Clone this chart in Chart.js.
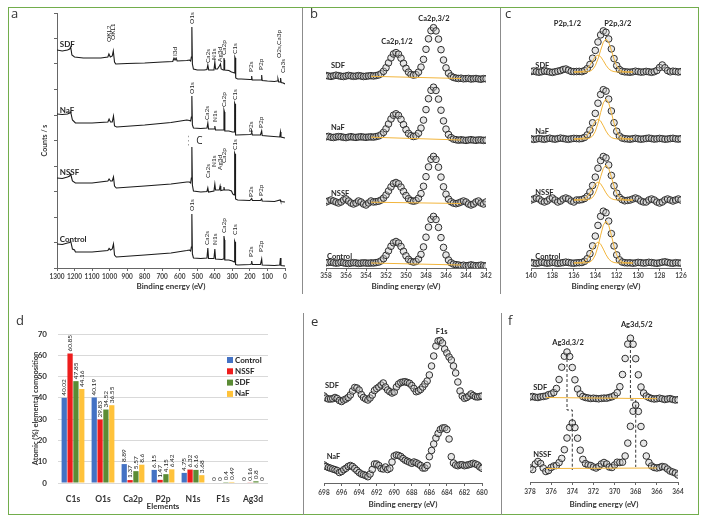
<!DOCTYPE html>
<html>
<head>
<meta charset="utf-8">
<script src="https://cdn.jsdelivr.net/npm/chart.js@4.4.1/dist/chart.umd.min.js"></script>
<style>
  html, body { margin:0; padding:0; background:#fff; }
  #fig { position:relative; width:705px; height:524px; overflow:hidden; }
  #fig canvas { position:absolute; }
  .frame { position:absolute; left:8px; top:7px; width:689px; height:506px; border:1.5px solid #72ad4c; }
  .vl { position:absolute; width:1px; background:#8c8c8c; }
  .tag { position:absolute; font:13px 'Open Sans', sans-serif; color:#333; line-height:13px; }
</style>
</head>
<body>
<div id="fig">
  <div class="frame"></div>
  <div class="vl" style="left:302px;top:8px;height:286px"></div>
  <div class="vl" style="left:500px;top:8px;height:286px"></div>
  <div class="vl" style="left:303px;top:313px;height:202px"></div>
  <div class="vl" style="left:501px;top:313px;height:202px"></div>

  <canvas id="ca" width="288" height="298" style="left:10px;top:0"></canvas>
  <canvas id="cb" width="193" height="298" style="left:305px;top:0"></canvas>
  <canvas id="cc" width="195" height="298" style="left:503px;top:0"></canvas>
  <canvas id="cd" width="288" height="205" style="left:10px;top:310px"></canvas>
  <canvas id="ce" width="193" height="205" style="left:305px;top:310px"></canvas>
  <canvas id="cf" width="195" height="205" style="left:503px;top:310px"></canvas>

  <div class="tag" style="left:11px;top:7px">a</div>
  <div class="tag" style="left:310px;top:7px">b</div>
  <div class="tag" style="left:505px;top:7px">c</div>
  <div class="tag" style="left:16px;top:314px">d</div>
  <div class="tag" style="left:311px;top:315px">e</div>
  <div class="tag" style="left:508px;top:314px">f</div>
</div>

<script>
// ---- a: survey spectra (binding energy, offset intensity) ----
const A_SDF_E = [1300,1270,1240,1228,1222,1215,1200,1150,1100,1050,1010,1004,996,985,979,972,965,900,800,700,640,633,627,621,615,560,545,538,534,531,528,522,500,460,445,440,435,405,400,396,385,374,368,364,352,348,346,344,320,305,295,289,286,284,281,270,250,200,192,190,187,150,136,133,130,100,60,45,40,36,28,25,22,10,0]
const A_SDF_V = [218,217,218,219,221,213,211,210,210,210,211,214,211,212,217,206,204,204.5,205,206,206.5,210,208,210,207,207.5,208,207,211,241,204,199,198,198,198.5,203,198,198,206,199,199,202,204,199,198,210,208,198,197.5,196,195.5,195,211,210,190,189,189,188.5,188.5,192,188,188,188,193,187.5,187,186.5,187,189,186,186,190,185.5,185,184]
const A_NAF_E = [1300,1270,1240,1228,1222,1212,1195,1100,1010,1003,995,985,978,972,960,800,650,560,545,538,534,531,528,522,480,445,440,436,404,400,396,360,350,348,345,343,320,300,290,287,285,282,278,200,192,190,186,140,133,130,100,30,26,23,0]
const A_NAF_V = [154,153.5,154,155,156,148,145,145,146,149,146,146,152,142,141,143,145.5,148,147.5,147,151,172,143,140,139.5,140,145,139,139,142,138,138,138,158,156,137,137,136,136,165,164,133,133,133.5,134,136,133,133,137,132.5,132,131,136,131,130]
const A_NSSF_E = [1300,1270,1240,1228,1222,1212,1195,1100,1010,1003,995,985,978,972,962,800,650,560,545,538,534,531,528,522,480,445,440,436,405,400,396,375,370,366,352,348,345,320,305,298,290,287,285,282,270,200,190,186,140,133,130,60,27,24,0]
const A_NSSF_V = [90,89.5,91,92,94,87,85,85,87,89,87,87,91,82,80,82,84,86,86,85,90,121,83,77,76,76.5,80,76,77,84,78,78,82,77.5,78,81,78,78,77,74,73,115,114,69,68,67.5,69.5,67.5,67.5,69,67,66.5,68,66.5,66]
const A_CTRL_E = [1300,1270,1240,1228,1222,1212,1200,1195,1100,1010,1003,995,985,978,972,962,800,650,560,545,538,534,531,528,522,480,445,440,436,405,400,396,360,352,348,345,343,320,300,290,287,285,282,270,200,192,190,186,140,133,130,60,30,26,23,0]
const A_CTRL_V = [24,23.5,25,25.5,27,19,18,16,16,17.5,19.5,18,19,24,13,11,13,15,17.5,18,17,21,54,14,10,9.5,10,20,9.5,9.5,19,9,8.5,9,32,28,8,8,7,6,27,26,3.5,3,3.5,4,7,3.5,3.5,9,3,2.5,3,10,2.5,2]

// peak labels: [energy, label base, text]
const A_PEAKS = [
  [1005,226,'OKL2'],[980,228,'OKL1'],[626,212,'I3d'],[531,244,'O1s'],[442,205,'Ca2s'],[403,208,'N1s'],
  [373,206,'Ag3d'],[350,213,'Ca2p'],[287,214,'C1s'],[192,196,'P2s'],[135,198,'P2p'],[32,210,'O2s,Ca3p'],[14,195,'Ca3s'],
  [531,174,'O1s'],[445,148,'Ca2s'],[402,146,'N1s'],[350,161,'Ca2p'],[287,168,'C1s'],[192,136,'P2s'],[135,140,'P2p'],
  [553,122,'- - -'],[442,90,'Ca2s'],[403,101,'N1s'],[372,98,'Ag3d'],[350,105,'Ca2p'],[287,118,'C1s'],[192,71,'P2s'],[135,72,'P2p'],
  [531,57,'O1s'],[445,23,'Ca2s'],[402,23,'N1s'],[350,35,'Ca2p'],[287,33,'C1s'],[192,11,'P2s'],[135,16,'P2p']
]
const A_NAMES = [['SDF',1284,224],['NaF',1284,158],['NSSF',1284,96],['Control',1284,29],['C',506,127]]

// ---- b: Ca2p ----
const B_E = [358,357.75,357.5,357.25,357,356.75,356.5,356.25,356,355.75,355.5,355.25,355,354.75,354.5,354.25,354,353.75,353.5,353.25,353,352.75,352.5,352.25,352,351.75,351.5,351.25,351,350.75,350.5,350.25,350,349.75,349.5,349.25,349,348.75,348.5,348.25,348,347.75,347.5,347.25,347,346.75,346.5,346.25,346,345.75,345.5,345.25,345,344.75,344.5,344.25,344,343.75,343.5,343.25,343,342.75,342.5,342.25,342]
const B_SDF = [192.5,192.0,191.6,192.2,192.8,192.3,191.8,191.5,192.0,192.6,192.1,191.7,191.9,192.4,192.0,191.5,191.8,192.1,192.3,192.0,
  192.4,193.0,194.2,196.7,200.3,205.1,210.1,214.0,215.4,213.8,209.8,204.7,199.7,195.9,193.6,192.9,193.4,195.9,200.9,208.6,218.7,229.2,237.3,240.3,237.1,228.9,218.3,208.0,200.1,194.9,192.0,190.6,189.9,
  189.5,189.8,189.2,189.4,189.6,189.0,189.3,189.5,189.1,188.8,189.4,189.2]
const B_NAF = [131.2,131.6,130.8,130.5,131.0,131.4,131.2,130.7,130.4,130.9,131.3,130.8,130.6,131.0,131.2,130.9,130.7,131.0,131.1,130.9,
  131.4,132.0,133.2,135.6,139.2,144.0,149.0,152.8,154.2,152.6,148.6,143.4,138.4,134.6,132.3,131.5,132.1,134.8,139.9,147.9,158.4,169.3,177.7,180.8,177.5,168.9,157.8,147.1,138.9,133.5,130.4,128.9,128.3,
  127.8,128.2,127.9,127.6,128.0,128.3,127.9,127.7,128.1,128.0,127.6,127.9]
const B_NSSF = [66,67,68,67,66,65,66,68,69,67,65,64,65,67,66,64,63,65,67,66,
  66.3,66.8,67.9,69.9,73.0,77.0,81.1,84.4,85.5,84.2,80.9,76.6,72.5,69.3,67.4,66.8,67.4,69.7,74.4,81.7,91.3,101.1,108.7,111.6,108.6,100.8,90.9,81.2,73.8,68.9,66.2,64.9,64.3,
  65,66,67,66,64,63,64,66,67,65,64,66]
const B_CTRL = [5.2,5.6,5.9,5.3,4.9,5.1,5.7,5.2,4.8,4.5,5.0,5.3,5.1,4.6,4.9,5.2,5.0,4.8,5.1,5.0,
  5.4,5.9,7.1,9.3,12.7,17.1,21.7,25.2,26.5,25.0,21.5,16.7,12.2,8.7,6.6,5.9,6.5,8.9,13.6,21.1,30.8,40.9,48.6,51.6,48.5,40.6,30.4,20.6,13.0,8.0,5.2,3.9,3.3,
  3.0,2.4,2.8,2.2,2.5,3.1,2.6,2.2,2.4,2.9,2.3,2.1]
const B_BG_E = [353.5,344.5]
const B_BG = { sdf:[191.7,189.5], naf:[130.8,128.0], nssf:[65.8,64.5], ctrl:[5.0,3.0] }
const B_NAMES = [['SDF',357.5,202],['NaF',357.5,140],['NSSF',357.5,74],['Control',357.9,11]]
const B_HEADS = [['Ca2p,1/2',350.9,226],['Ca2p,3/2',347.2,249]]

// ---- c: P2p ----
const C_E = [140,139.75,139.5,139.25,139,138.75,138.5,138.25,138,137.75,137.5,137.25,137,136.75,136.5,136.25,136,135.75,135.5,135.25,135,134.75,134.5,134.25,134,133.75,133.5,133.25,133,132.75,132.5,132.25,132,131.75,131.5,131.25,131,130.75,130.5,130.25,130,129.75,129.5,129.25,129,128.75,128.5,128.25,128,127.75,127.5,127.25,127,126.75,126.5,126.25,126]
const C_SDF = [196.5,197,196.2,195.8,196.3,197,196.6,196,195.6,196.2,196.8,197.4,198.5,199,197.8,196.6,196.4,
  196.5,196.6,196.4,197.4,199.4,203.5,209.8,217.6,226.0,233.1,237.1,235.7,229.0,219.1,209.4,202.4,198.5,196.8,196.2,196.0,
  195.8,196.2,196.8,196.4,195.9,196.1,196.6,196.2,195.7,196.3,197.5,200.5,203,200.2,197.4,196.2,196.8,196.5,196,196.4]
const C_NAF = [129.2,128.6,129,129.5,129.1,128.7,129.3,129.8,129.2,128.8,129.4,129.9,129.5,129,128.7,129.2,129.6,
  129.4,129.2,129.5,130.6,133.1,137.9,145.2,154.6,164.8,173.5,178.3,176.9,168.9,157.0,145.3,136.7,132.0,130.0,129.3,129.1,
  128.8,129.3,129.7,129.2,128.8,129.1,129.5,129.9,129.4,128.9,129.2,129.6,129.3,128.8,129.0,129.4,129.7,129.2,128.9,129.3]
const C_NSSF = [68,69,70,69,67,66,67,69,70,68,66,67,69,70,69,67,66,68,68,
  68.4,69.5,71.6,76,82.5,90.9,99.8,107.4,111.5,110.1,103,92.6,82.2,74.8,70.6,68.4,67.2,67.6,
  68,69,70,69,67,66,66,68,69,68,66,65,66,68,69,68,67,68,69,68]
const C_CTRL = [5.5,5,4.6,5.2,5.8,5.3,4.8,5.1,5.6,5.2,4.7,5,5.4,5.9,5.5,5,4.8,5.2,5.3,
  5.5,6.7,9.3,14.3,22.1,31.9,42.6,51.7,56.8,55.3,46.9,34.4,22.1,13.1,8.2,6,5.3,5.1,
  5.2,4.8,5.1,5.6,5.3,4.9,5.2,5.7,5.4,5,4.7,5.2,5.8,6.2,5.6,5,4.8,5.3,5.1,4.9]
// fitted components P2p 3/2 (a) and 1/2 (b)
const C_FIT_E = [136,135.25,135,134.75,134.5,134.25,134,133.75,133.5,133.25,133,132.75,132.5,132.25,132,131.75,131.5,131.25,131,130.5]
const C_SDF_A = [196,196,196,196.2,196.8,198.5,202.3,209,217.8,225.8,229,225.8,217.8,209,202.3,198.5,196.8,196.2,196,196]
const C_SDF_B = [196,196.4,197.3,199.2,202.7,207.3,211.3,213,211.3,207.3,202.7,199.2,197.3,196.4,196.1,196,196,196,196,196]
const C_NAF_A = [129,129,129.1,129.3,130,132,136.6,144.8,155.5,165.1,169,165.1,155.5,144.8,136.6,132,130,129.3,129.1,129]
const C_NAF_B = [129,129.5,130.5,132.8,136.9,142.2,147,149,147,142.2,136.9,132.8,130.5,129.5,129.1,129,129,129,129,129]
const C_NSSF_A = [68,68,68,68.2,68.9,70.6,74.7,81.8,91.2,99.6,103,99.6,91.2,81.8,74.7,70.6,68.9,68.2,68,68]
const C_NSSF_B = [68,68.4,69.4,71.4,75.1,79.9,84.2,86,84.2,79.9,75.1,71.4,69.4,68.4,68.1,68,68,68,68,68]
const C_CTRL_A = [5,5,5.1,5.3,6,8.2,13,21.6,32.8,42.9,47,42.9,32.8,21.6,13,8.2,6,5.3,5.1,5]
const C_CTRL_B = [5,5.5,6.6,9,13.3,18.9,23.9,26,23.9,18.9,13.3,9,6.6,5.5,5.1,5,5,5,5,5]
const C_NAMES = [['SDF',139.6,202],['NaF',139.6,136],['NSSF',139.6,75],['Control',139.6,11]]
const C_HEADS = [['P2p,1/2',136.6,244],['P2p,3/2',131.9,244]]

// ---- d: atomic composition ----
const ELEMENTS = ['C1s','O1s','Ca2p','P2p','N1s','F1s','Ag3d']
const GROUPS = ['Control','NSSF','SDF','NaF']
const D_CONTROL = [40.02,40.19,8.89,6.15,4.75,0,0]
const D_NSSF = [60.85,29.83,1.37,1.47,6.32,0,0.16]
const D_SDF = [47.85,34.52,5.57,4.15,6.16,0.4,0.8]
const D_NAF = [44.16,36.55,8.6,6.42,3.68,0.49,0]
const D_COLORS = ['#4472c4','#ee1d1d','#5b8c35','#ffc23a']

// ---- e: F1s ----
const E_E = [698,697.75,697.5,697.25,697,696.75,696.5,696.25,696,695.75,695.5,695.25,695,694.75,694.5,694.25,694,693.75,693.5,693.25,693,692.75,692.5,692.25,692,691.75,691.5,691.25,691,690.75,690.5,690.25,690,689.75,689.5,689.25,689,688.75,688.5,688.25,688,687.75,687.5,687.25,687,686.75,686.5,686.25,686,685.75,685.5,685.25,685,684.75,684.5,684.25,684,683.75,683.5,683.25,683,682.75,682.5,682.25,682,681.75,681.5,681.25,681,680.75,680.5,680.25,680]
const E_SDF = [87,85,84,84,84.3,85.5,84.5,82.5,81.5,83,84,85.5,88,92,95.5,95,93,88.5,85.5,84,83,85,88,92.5,94.5,96,98,100,96,93,91.3,90,91,96,99,100.5,101,101.3,100.5,99.7,97.5,94.5,91.3,92,93.5,96,99,102,108,117,127,137,142,142.5,140,134,130,126,123,117,110,101,92,87,84.7,85.5,87,89,87.5,86.3,86,86.5,87]
const E_NAF = [18,16.5,15.5,14.8,14,13.3,12.5,10.5,11.5,13.3,14.7,16.5,17.5,16.5,14.5,12.5,10.5,9,8.3,7.5,6.3,9,13.5,19,19,17.5,14.5,14,16,13.5,14.7,21,27,28,27.5,26.5,24.5,22.8,21.8,20.8,19.7,21,20.2,19,17.5,15,15,17.5,26.3,32.5,39,45,49.5,53.5,55,55.2,53.5,44,26.3,20,18,17.3,18.2,18.3,17.3,17.8,18.3,19,19.7,19,18,16,14.7]
const E_NAMES = [['SDF',697.9,97],['NaF',697.7,26]]
const E_HEADS = [['F1s',684.6,151]]

// ---- f: Ag3d ----
const F_E = [378,377.75,377.5,377.25,377,376.75,376.5,376.25,376,375.75,375.5,375.25,375,374.75,374.5,374.25,374,373.75,373.5,373.25,373,372.75,372.5,372.25,372,371.75,371.5,371.25,371,370.75,370.5,370.25,370,369.75,369.5,369.25,369,368.75,368.5,368.25,368,367.75,367.5,367.25,367,366.75,366.5,366.25,366,365.75,365.5,365.25,365,364.75,364.5,364.25,364]
const F_SDF = [85,85.5,84.8,84.5,85.2,85.5,86,87.3,88,89.5,93.5,102.5,114.8,125.8,130,125.5,114.5,102.2,93,88,85.5,84.5,84,83.5,83.8,83.5,83.2,83.6,83.9,83.8,84.5,85.2,86.5,89.3,95.3,107.5,123.5,137.9,143.8,137.8,123.3,107.2,95,89,86,84.5,83.5,83,83.3,83.8,83.2,82.5,83,83.4,82.6,82,82.3]
const F_NSSF = [14,12.5,18,20.5,18.5,14,10.5,11.5,14.5,16,16.5,19.4,23.6,32.3,44,54.6,59,54.4,43.8,31.8,22.6,18.4,17,16.5,15,14,15.5,18,19.5,18,15,14.5,17,19.8,19.5,19.8,26,38.9,55.7,70.8,77,70.6,55.5,38.7,26,19.5,16,14.5,14,14.5,15.5,15,13,11,10,9,7]
const F_BG_E = [376.5,366]
const F_BG = { sdf:[84.5,83.3], nssf:[13.5,14] }
const F_SHIFT1_E = [374.5,374.5,374.0,374.0], F_SHIFT1_V = [128,72,72,12]
const F_SHIFT2_E = [368.5,368.5,368.0,368.0], F_SHIFT2_V = [142,82,82,15]
const F_NAMES = [['SDF',377.7,94],['NSSF',377.7,27]]
const F_HEADS = [['Ag3d,3/2',374.4,139],['Ag3d,5/2',367.9,157]]

// ---------------------------------------------------------------
Chart.defaults.font.family = 'Lato, "DejaVu Sans", sans-serif'
Chart.defaults.color = '#333'

const F_PEAK = '6.5px Lato', F_NAME = 'bold 7.5px Lato'
const xy = (xs, ys) => xs.map((x, i) => ({x, y: ys[i]}))
const dots = (xs, ys) => ({data:xy(xs, ys), showLine:false, pointRadius:3.3, pointBackgroundColor:'rgba(205,205,205,0.45)', pointBorderColor:'#2e2e2e', pointBorderWidth:1, order:1})
const fit = (xs, ys) => ({data:xy(xs, ys), showLine:true, borderColor:'#f2b53c', borderWidth:1, pointRadius:0, order:0})
const trace = (xs, ys) => ({data:xy(xs, ys), showLine:true, borderColor:'#1a1a1a', borderWidth:1.1, pointRadius:0})
const names = list => list.map(([t, x, y]) => ({x, y, t, font:F_NAME}))
const heads = list => list.map(([t, x, y]) => ({x, y, t, align:'center', font:F_NAME}))

function notesPlugin(items) {
  return {
    id:'notes',
    afterDatasetsDraw(chart) {
      const {ctx, scales} = chart
      for (const n of items) {
        const px = scales.x.getPixelForValue(n.x), py = scales.y.getPixelForValue(n.y)
        ctx.save()
        ctx.font = n.font
        ctx.fillStyle = '#262626'
        ctx.textBaseline = 'middle'
        if (n.rot) {
          ctx.translate(px, py); ctx.rotate(-Math.PI / 2)
          ctx.textAlign = 'left'; ctx.fillText(n.t, 0, 0)
        } else {
          ctx.textAlign = n.align || 'left'; ctx.fillText(n.t, px, py)
        }
        ctx.restore()
      }
    }
  }
}

const energyAxis = (min, max, step, h, tickPad, titlePad) => ({
  type:'linear', reverse:true, min, max,
  ticks:{stepSize:step, font:{size:6.5, weight:'bold'}, color:'#444', padding:tickPad, maxRotation:0, autoSkip:false, callback:v => String(v)},
  grid:{drawOnChartArea:false, tickLength:3, color:'#666'},
  border:{color:'#666'},
  title:{display:true, text:'Binding energy (eV)', font:{size:8, weight:'bold'}, color:'#333', padding:{top:0, bottom:titlePad}},
  afterFit(s) { s.height = h }
})
const hiddenY = max => ({type:'linear', display:false, min:0, max})
const base = {responsive:false, animation:false, events:[]}
const quiet = {legend:{display:false}, tooltip:{enabled:false}}

// a
new Chart(document.getElementById('ca'), {
  type:'scatter',
  data:{datasets:[trace(A_SDF_E, A_SDF_V), trace(A_NAF_E, A_NAF_V), trace(A_NSSF_E, A_NSSF_V), trace(A_CTRL_E, A_CTRL_V)]},
  options:{...base, plugins:quiet, layout:{padding:{left:0, top:13, right:13, bottom:0}},
    scales:{
      x:energyAxis(0, 1300, 100, 30, 2, 7),
      y:{type:'linear', min:0, max:255,
        ticks:{stepSize:12.75, callback:() => ''},
        grid:{drawOnChartArea:false, tickLength:3, color:'#666'}, border:{color:'#666'},
        title:{display:true, text:'Counts / s', font:{size:7, weight:'bold'}, color:'#333', padding:{top:31, bottom:0}},
        afterFit(s) { s.width = 47 }}
    }},
  plugins:[notesPlugin([
    ...A_PEAKS.map(([x, y, t]) => ({x, y, t, rot:true, font:F_PEAK})),
    ...A_NAMES.slice(0, 4).map(([t, x, y]) => ({x, y, t, font:'bold 8px Lato'})),
    {x:A_NAMES[4][1], y:A_NAMES[4][2], t:A_NAMES[4][0], font:'10px "Open Sans"'}
  ])]
})

// b
new Chart(document.getElementById('cb'), {
  type:'scatter',
  data:{datasets:[
    dots(B_E, B_SDF), dots(B_E, B_NAF), dots(B_E, B_NSSF), dots(B_E, B_CTRL),
    fit(B_BG_E, B_BG.sdf), fit(B_BG_E, B_BG.naf), fit(B_BG_E, B_BG.nssf), fit(B_BG_E, B_BG.ctrl)
  ]},
  options:{...base, plugins:quiet, layout:{padding:{left:21, top:13, right:12, bottom:0}},
    scales:{x:energyAxis(342, 358, 2, 30, 1, 7), y:hiddenY(255)}},
  plugins:[notesPlugin([...names(B_NAMES), ...heads(B_HEADS)])]
})

// c
new Chart(document.getElementById('cc'), {
  type:'scatter',
  data:{datasets:[
    dots(C_E, C_SDF), dots(C_E, C_NAF), dots(C_E, C_NSSF), dots(C_E, C_CTRL),
    fit(C_FIT_E, C_SDF_A), fit(C_FIT_E, C_SDF_B), fit(C_FIT_E, C_NAF_A), fit(C_FIT_E, C_NAF_B),
    fit(C_FIT_E, C_NSSF_A), fit(C_FIT_E, C_NSSF_B), fit(C_FIT_E, C_CTRL_A), fit(C_FIT_E, C_CTRL_B)
  ]},
  options:{...base, plugins:quiet, layout:{padding:{left:28, top:13, right:17, bottom:0}},
    scales:{x:energyAxis(126, 140, 2, 30, 1, 7), y:hiddenY(255)}},
  plugins:[notesPlugin([...names(C_NAMES), ...heads(C_HEADS)])]
})

// d
const barValues = {
  id:'barValues',
  afterDatasetsDraw(chart) {
    const {ctx} = chart
    chart.data.datasets.forEach((ds, i) => {
      chart.getDatasetMeta(i).data.forEach((bar, j) => {
        ctx.save()
        ctx.font = '6.5px Lato'; ctx.fillStyle = '#222'
        ctx.translate(bar.x, bar.y - 2); ctx.rotate(-Math.PI / 2)
        ctx.textAlign = 'left'; ctx.textBaseline = 'middle'
        ctx.fillText(String(ds.data[j]), 0, 0)
        ctx.restore()
      })
    })
  }
}
const boxLegend = {
  id:'boxLegend',
  afterDraw(chart) {
    const {ctx} = chart
    chart.data.datasets.forEach((ds, i) => {
      const y = 50 + i * 11.3
      ctx.fillStyle = ds.backgroundColor
      ctx.fillRect(217, y - 3, 6, 6)
      ctx.fillStyle = '#222'; ctx.font = 'bold 8px Lato'
      ctx.textAlign = 'left'; ctx.textBaseline = 'middle'
      ctx.fillText(ds.label, 225, y)
    })
  }
}
new Chart(document.getElementById('cd'), {
  type:'bar',
  data:{labels:ELEMENTS, datasets:[D_CONTROL, D_NSSF, D_SDF, D_NAF].map((d, i) => ({
    label:GROUPS[i], data:d, backgroundColor:D_COLORS[i], categoryPercentage:0.78, barPercentage:0.9
  }))},
  options:{...base, plugins:quiet, layout:{padding:{left:0, top:24, right:30, bottom:0}},
    scales:{
      x:{ticks:{font:{size:8.5, weight:'bold'}, color:'#333', padding:3},
        grid:{display:false}, border:{display:false},
        title:{display:true, text:'Elements', font:{size:8, weight:'bold'}, color:'#333', padding:{top:0, bottom:4}},
        afterFit(s) { s.height = 32 }},
      y:{min:0, max:70, ticks:{stepSize:10, font:{size:8, weight:'bold'}, color:'#333', padding:11},
        grid:{color:'#d9d9d9', drawTicks:false}, border:{display:false},
        title:{display:true, text:'Atomic (%) elemental composition', font:{size:7.5, weight:'bold'}, color:'#333', padding:{top:21, bottom:0}},
        afterFit(s) { s.width = 48 }}
    }},
  plugins:[barValues, boxLegend]
})

// e
new Chart(document.getElementById('ce'), {
  type:'scatter',
  data:{datasets:[dots(E_E, E_SDF), dots(E_E, E_NAF)]},
  options:{...base, plugins:quiet, layout:{padding:{left:19, top:8, right:16, bottom:0}},
    scales:{x:energyAxis(680, 698, 2, 32, 3, 6), y:hiddenY(165)}},
  plugins:[notesPlugin([...names(E_NAMES), ...heads(E_HEADS)])]
})

// f
const shift = (xs, ys) => ({data:xy(xs, ys), showLine:true, borderColor:'#222', borderWidth:0.9, borderDash:[3, 2], pointRadius:0, order:0})
new Chart(document.getElementById('cf'), {
  type:'scatter',
  data:{datasets:[
    dots(F_E, F_SDF), dots(F_E, F_NSSF),
    fit(F_BG_E, F_BG.sdf), fit(F_BG_E, F_BG.nssf),
    shift(F_SHIFT1_E, F_SHIFT1_V), shift(F_SHIFT2_E, F_SHIFT2_V)
  ]},
  options:{...base, plugins:quiet, layout:{padding:{left:27, top:8, right:20, bottom:0}},
    scales:{x:energyAxis(364, 378, 2, 33, 3, 6), y:hiddenY(164)}},
  plugins:[notesPlugin([...names(F_NAMES), ...heads(F_HEADS)])]
})
</script>
</body>
</html>
